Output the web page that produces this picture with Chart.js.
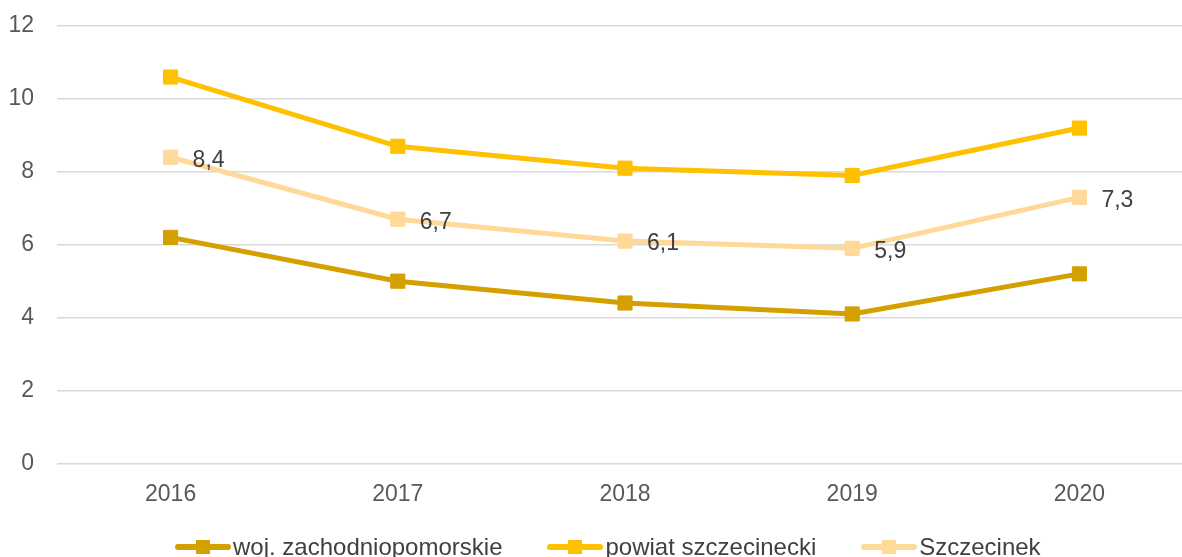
<!DOCTYPE html>
<html>
<head>
<meta charset="utf-8">
<script src="https://cdn.jsdelivr.net/npm/chart.js@4"></script>
<style>
  html, body { margin: 0; padding: 0; background: #fff; overflow: hidden; }
  #wrap { position: relative; width: 1182px; height: 557px; overflow: hidden; }
  #legend {
    position: absolute; left: 175px; top: 533px; height: 28px;
    display: flex; align-items: center; white-space: nowrap;
    font: 24px "Liberation Sans", Arial, sans-serif; color: #404040;
  }
  #legend .item { display: flex; align-items: center; margin-right: 45px; }
  #legend canvas { margin-right: 2px; }
</style>
</head>
<body>
<div id="wrap">
  <canvas id="myChart" width="1204" height="557" style="width:1204px;height:557px"></canvas>
  <div id="legend"></div>
</div>
<script>
var years = ['2016', '2017', '2018', '2019', '2020'];
var wojValues = [6.2, 5.0, 4.4, 4.1, 5.2];
var powiatValues = [10.6, 8.7, 8.1, 7.9, 9.2];
var miastoValues = [8.4, 6.7, 6.1, 5.9, 7.3];
var yTicks = [0, 2, 4, 6, 8, 10, 12];

var colWoj = 'rgb(212,160,0)';
var colPowiat = 'rgb(255,192,0)';
var colMiasto = 'rgb(255,217,153)';
var fontFam = '"Liberation Sans", Arial, sans-serif';

// legend marker: short line with a square in the middle
function legendMarker(color) {
    var c = document.createElement('canvas');
    c.width = 56; c.height = 16;
    var g = c.getContext('2d');
    g.strokeStyle = color;
    g.lineWidth = 6;
    g.lineCap = 'round';
    g.beginPath();
    g.moveTo(3, 8); g.lineTo(53, 8);
    g.stroke();
    g.fillStyle = color;
    g.fillRect(21, 1, 14, 14);
    return c;
}

// value labels for Szczecinek only
var valueLabels = {
    id: 'valueLabels',
    afterDatasetsDraw: function(chart) {
        var ctx = chart.ctx;
        var meta = chart.getDatasetMeta(2);
        ctx.save();
        ctx.font = '23px ' + fontFam;
        ctx.fillStyle = '#404040';
        ctx.textAlign = 'left';
        ctx.textBaseline = 'middle';
        meta.data.forEach(function(pt, i) {
            var txt = String(miastoValues[i]).replace('.', ',');
            ctx.fillText(txt, pt.x + 22, pt.y + 3);
        });
        ctx.restore();
    }
};

function series(label, data, color) {
    return {
        label: label,
        data: data,
        borderColor: color,
        backgroundColor: color,
        borderWidth: 5,
        pointStyle: 'rect',
        pointRadius: 10,
        pointHoverRadius: 10,
        pointBorderWidth: 1,
        pointBorderColor: color,
        pointBackgroundColor: color,
        tension: 0,
        fill: false
    };
}

var ctx = document.getElementById('myChart').getContext('2d');
var chart = new Chart(ctx, {
    type: 'line',
    data: {
        labels: years,
        datasets: [
            series('woj. zachodniopomorskie', wojValues, colWoj),
            series('powiat szczecinecki', powiatValues, colPowiat),
            series('Szczecinek', miastoValues, colMiasto)
        ]
    },
    plugins: [valueLabels],
    options: {
        responsive: false,
        animation: false,
        layout: { padding: { left: 9, top: 0, right: 0, bottom: 40 } },
        plugins: {
            tooltip: { enabled: false },
            legend: { display: false }
        },
        scales: {
            x: {
                offset: true,
                grid: { display: false },
                border: { display: false },
                ticks: {
                    color: '#595959',
                    padding: 9,
                    font: { size: 23, family: fontFam }
                }
            },
            y: {
                min: 0,
                max: 12,
                afterBuildTicks: function(axis) {
                    axis.ticks = yTicks.map(function(v) { return { value: v }; });
                },
                afterFit: function(axis) {
                    axis.width = 48;
                    axis.paddingTop = 26;
                    axis.paddingBottom = 0;
                },
                grid: { color: '#d9d9d9', lineWidth: 1.5, drawTicks: false },
                border: { display: false },
                ticks: {
                    color: '#595959',
                    padding: 23,
                    font: { size: 23, family: fontFam }
                }
            }
        }
    }
});

// html legend built from the chart's datasets
var legendEl = document.getElementById('legend');
chart.data.datasets.forEach(function(ds) {
    var item = document.createElement('span');
    item.className = 'item';
    item.appendChild(legendMarker(ds.borderColor));
    var txt = document.createElement('span');
    txt.textContent = ds.label;
    item.appendChild(txt);
    legendEl.appendChild(item);
});
</script>
</body>
</html>
